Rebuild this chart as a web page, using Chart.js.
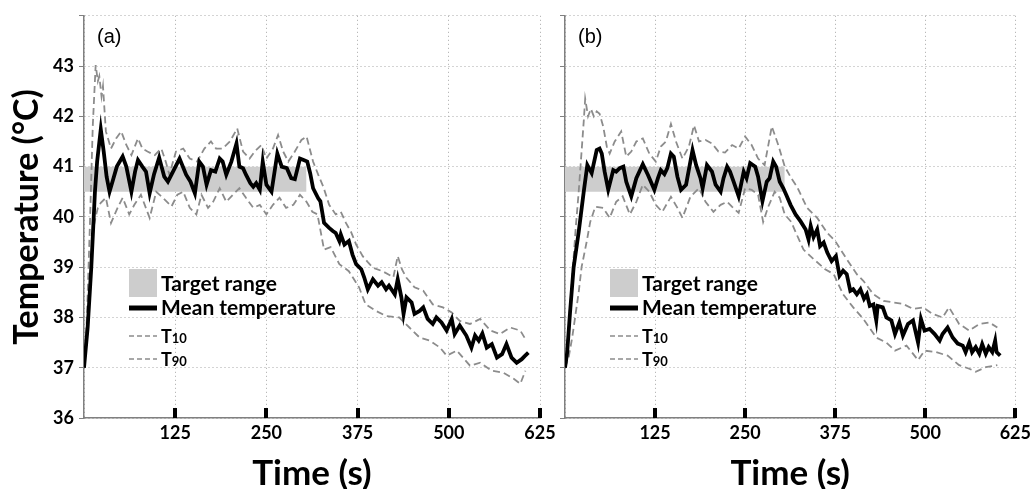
<!DOCTYPE html>
<html><head><meta charset="utf-8">
<script src="https://cdn.jsdelivr.net/npm/chart.js@4.4.1/dist/chart.umd.min.js"></script>
<style>
html,body{margin:0;padding:0;background:#fff;}
#wrap{position:relative;width:1035px;height:489px;overflow:hidden;background:#fff;}
canvas{position:absolute;top:0;}
#ca{left:0;}
#cb{left:545px;}
</style></head><body>
<div id="wrap"><canvas id="ca" width="560" height="489"></canvas><canvas id="cb" width="490" height="489"></canvas></div>
<script>
// ---------- data ----------
const xTicks = [0, 125, 250, 375, 500, 625];
const yTicks = [36, 37, 38, 39, 40, 41, 42, 43, 44];
const targetTimes = [0, 305];
const targetLow = 40.5;
const targetHigh = 41;

// Panel (a)
const aMeanT = [0,5,10,15,18,23,27,31,35,40,45,53,58,65,70,74,80,85,90,96,103,110,115,122,131,140,146,152,158,163,168,174,180,186,190,195,202,209,213,218,222,228,232,236,241,245,250,257,265,271,278,284,289,296,301,306,310,314,321,324,329,336,341,345,350,352,357,363,368,373,380,384,389,396,403,408,414,418,426,430,435,438,442,449,453,460,465,471,478,483,490,497,504,508,515,524,531,536,541,546,552,559,566,573,579,586,593,600,604,609];
const aMeanV = [37.0,37.8,39.0,40.5,41.1,41.74,41.3,40.8,40.5,40.75,41.0,41.2,41.0,40.5,40.9,41.13,41.0,40.9,40.47,40.85,41.18,40.8,40.7,40.9,41.16,40.84,40.7,40.47,41.1,41.0,40.64,40.93,40.9,41.16,41.1,40.84,41.1,41.46,41.0,40.97,40.84,40.67,40.6,40.67,40.54,41.1,40.64,40.5,41.26,41.0,40.97,40.77,40.75,41.16,41.13,41.1,40.87,40.57,40.37,40.31,39.88,39.78,39.72,39.68,39.52,39.65,39.45,39.52,39.25,39.06,38.96,38.8,38.56,38.76,38.63,38.7,38.56,38.63,38.46,38.76,38.4,38.07,38.4,38.3,38.07,38.13,38.2,37.97,37.87,38.0,37.9,37.74,37.97,37.67,37.84,37.64,37.4,37.64,37.54,37.68,37.4,37.47,37.2,37.27,37.47,37.2,37.1,37.17,37.23,37.3];
const aT90T = [0,4,8,12,16,19,21,24,26,30,37,44,51,58,65,74,80,87,97,106,112,117,126,136,145,155,165,174,181,190,200,210,218,227,234,243,250,259,266,273,280,289,298,305,314,321,328,336,345,352,359,366,373,382,389,396,409,418,424,430,436,442,453,465,478,492,504,515,529,543,557,570,584,598,605];
const aT90V = [37.0,38.0,39.8,41.8,43.02,42.7,42.8,42.4,42.6,41.7,41.36,41.56,41.7,41.43,41.23,41.56,41.36,41.3,41.23,41.36,41.1,40.84,41.3,41.36,41.16,41.1,41.36,41.5,41.36,41.36,41.5,41.76,41.3,41.16,41.3,41.43,41.16,41.36,41.63,41.3,41.1,41.3,41.53,41.6,41.1,40.84,40.6,40.24,40.05,40.1,39.88,39.7,39.45,39.22,39.1,38.99,38.92,38.85,38.8,39.22,38.95,38.79,38.6,38.53,38.26,38.2,38.1,37.93,37.87,37.97,37.74,37.67,37.8,37.74,37.57];
const aT10T = [0,4,8,12,16,19,23,30,37,46,53,62,69,78,90,99,108,120,128,136,145,154,161,170,177,186,195,204,213,222,232,241,250,259,268,277,287,296,305,313,320,329,338,350,363,377,386,400,414,432,446,460,474,488,497,511,529,543,559,575,589,598,605];
const aT10V = [37.0,37.5,38.5,39.7,40.0,40.18,40.28,40.38,39.88,40.18,40.38,40.05,40.24,40.44,39.98,40.5,40.38,40.21,40.44,40.5,40.18,40.05,40.44,40.18,40.3,40.57,40.3,40.44,40.57,40.38,40.18,40.24,40.05,40.24,40.38,40.18,40.24,40.44,40.3,40.1,40.05,39.35,39.4,39.06,38.92,38.6,38.26,38.13,38.03,38.0,37.8,37.6,37.54,37.4,37.24,37.34,37.04,37.1,36.94,36.9,36.78,36.68,36.94];

// Panel (b)
const bMeanT = [0,3,7,12,19,26,31,37,44,48,51,55,60,67,71,76,81,85,92,99,108,115,124,129,133,138,142,147,151,156,161,168,177,182,188,191,197,204,209,216,220,225,229,234,241,248,252,257,264,268,274,280,284,289,293,298,303,307,313,320,327,334,338,341,345,350,354,359,364,370,376,381,386,391,396,400,405,410,415,419,423,428,432,434,441,446,453,458,464,469,476,483,490,494,499,506,513,520,524,531,538,545,552,556,561,565,570,575,579,584,588,593,597,599,604];
const bMeanV = [37.0,37.3,38.1,39.0,39.7,40.5,41.03,40.87,41.33,41.36,41.26,40.9,40.54,40.93,40.9,40.97,41.0,40.7,40.41,40.77,41.05,40.84,40.54,40.77,40.93,40.85,40.97,41.26,41.2,40.8,40.54,40.64,41.33,41.03,40.77,40.57,41.03,40.9,40.64,40.5,40.77,41.0,40.9,40.7,40.41,40.9,40.77,41.07,41.0,40.8,40.31,40.7,40.77,41.1,41.0,40.7,40.57,40.44,40.24,40.05,39.91,39.75,39.55,39.82,39.6,39.75,39.42,39.49,39.29,39.12,39.22,38.83,38.93,38.86,38.53,38.56,38.46,38.56,38.37,38.46,38.23,38.26,37.94,38.23,38.2,38.0,37.94,37.67,37.9,37.64,37.87,37.94,37.5,37.97,37.74,37.77,37.67,37.54,37.67,37.8,37.6,37.48,37.44,37.31,37.5,37.31,37.41,37.28,37.47,37.28,37.41,37.31,37.54,37.31,37.24];
const bT90T = [0,5,10,15,19,23,26,28,32,36,40,44,48,53,58,62,69,78,85,92,99,108,117,126,133,140,147,154,163,172,179,186,195,204,213,222,232,241,250,259,268,277,287,296,305,314,322,336,350,364,375,391,405,414,428,442,455,469,483,497,510,524,533,547,561,575,589,600];
const bT90V = [37.0,37.8,38.8,39.8,40.5,41.3,41.9,42.35,42.0,42.15,42.0,42.1,42.05,41.8,41.4,41.26,41.5,41.7,41.2,41.3,41.5,41.56,41.26,41.1,41.4,41.5,41.85,41.5,41.16,41.4,41.82,41.5,41.53,41.46,41.3,41.28,41.43,41.36,41.6,41.43,41.16,41.03,41.8,41.43,41.0,40.77,40.6,40.18,39.98,39.68,39.52,39.16,38.86,38.73,38.46,38.33,38.3,38.27,38.17,38.2,38.07,38.0,38.2,37.87,37.74,37.87,37.9,37.8];
const bT10T = [0,5,10,14,19,23,30,35,42,53,62,71,80,90,99,108,117,126,135,147,156,163,174,186,195,206,216,225,232,241,250,259,268,275,282,291,298,305,314,320,331,345,361,373,386,400,414,432,446,458,474,490,499,515,531,547,561,570,584,600];
const bT10V = [37.0,37.2,37.6,38.0,38.5,39.0,39.5,39.9,40.2,40.18,39.98,40.3,40.41,40.05,40.3,40.64,40.5,40.24,40.1,40.4,40.18,39.98,40.4,40.57,40.3,40.1,40.24,40.3,40.2,40.08,40.57,40.54,40.44,39.9,40.2,40.5,40.38,40.05,39.9,39.7,39.35,39.16,38.96,38.86,38.46,38.2,37.97,37.6,37.5,37.34,37.44,37.15,37.34,37.31,37.24,37.05,36.98,36.92,37.01,37.05];

// ---------- rendering ----------
const FONT = "Lato, 'Open Sans', sans-serif";
const pts = (t, v) => t.map((x, i) => ({x: x, y: v[i]}));

function overlay(label) {
  return {
    id: 'overlay' + label,
    afterDraw(chart) {
      const ctx = chart.ctx, ca = chart.chartArea, xs = chart.scales.x;
      ctx.save();
      // inward thick tick marks on the time axis
      ctx.strokeStyle = '#000'; ctx.lineWidth = 4; ctx.setLineDash([]);
      xTicks.forEach(v => {
        if (v === 0) return;
        const px = Math.round(xs.getPixelForValue(v));
        ctx.beginPath(); ctx.moveTo(px, ca.bottom); ctx.lineTo(px, ca.bottom - 10); ctx.stroke();
      });
      // panel label
      ctx.fillStyle = '#000';
      ctx.font = "20px 'Liberation Sans', Arial, sans-serif";
      ctx.textBaseline = 'middle'; ctx.textAlign = 'left';
      ctx.fillText(label, ca.left + 13, 37);
      // legend
      const lx = ca.left + 45, tx = ca.left + 77;
      ctx.fillStyle = '#cdcdcd'; ctx.fillRect(lx, 269, 28, 28);
      ctx.fillStyle = '#000';
      ctx.font = "bold 21px " + FONT;
      ctx.fillText('Target range', tx, 284);
      ctx.strokeStyle = '#000'; ctx.lineWidth = 5;
      ctx.beginPath(); ctx.moveTo(lx, 308); ctx.lineTo(lx + 28, 308); ctx.stroke();
      ctx.fillText('Mean temperature', tx, 308);
      ctx.strokeStyle = '#8c8c8c'; ctx.lineWidth = 1.6; ctx.setLineDash([5, 3]);
      [[336, '10'], [359, '90']].forEach(([y, sub]) => {
        ctx.beginPath(); ctx.moveTo(lx, y); ctx.lineTo(lx + 28, y); ctx.stroke();
        ctx.textBaseline = 'alphabetic';
        ctx.font = "bold 18px " + FONT;
        ctx.fillText('T', tx, y + 7);
        const w = ctx.measureText('T').width;
        ctx.font = "bold 13px " + FONT;
        ctx.fillText(sub, tx + w, y + 7);
      });
      ctx.restore();
    }
  };
}

function makeConfig(p) {
  return {
    type: 'line',
    data: {datasets: [
      {label: 'Mean temperature', data: pts(p.meanT, p.meanV), borderColor: '#000', borderWidth: 3.8, pointRadius: 0, fill: false, tension: 0},
      {label: 'T10', data: pts(p.t10T, p.t10V), borderColor: '#8c8c8c', borderWidth: 1.8, borderDash: [7, 4], pointRadius: 0, fill: false, tension: 0},
      {label: 'T90', data: pts(p.t90T, p.t90V), borderColor: '#8c8c8c', borderWidth: 1.8, borderDash: [7, 4], pointRadius: 0, fill: false, tension: 0},
      {label: 'Target range', data: pts(targetTimes, [targetHigh, targetHigh]), borderWidth: 0, borderColor: 'rgba(0,0,0,0)', backgroundColor: '#cdcdcd', fill: {value: targetLow}, pointRadius: 0}
    ]},
    options: {
      responsive: false, animation: false, devicePixelRatio: 1,
      layout: {padding: {top: 13, right: p.padRight, bottom: 0, left: 0}},
      plugins: {legend: {display: false}, tooltip: {enabled: false}},
      scales: {
        x: {
          type: 'linear', min: 0, max: 625,
          afterBuildTicks: s => { s.ticks = xTicks.map(v => ({value: v})); },
          afterFit: s => { s.height = 71; },
          ticks: {callback: v => v === 0 ? '' : String(v), font: {family: FONT, size: 18, weight: 'bold'}, color: '#000', padding: 4, maxRotation: 0, autoSkip: false},
          grid: {color: '#a8a8a8', lineWidth: 1, drawTicks: false},
          border: {display: true, color: '#808080', width: 1.5, dash: [1, 3]},
          title: {display: true, text: 'Time (s)', font: {family: FONT, size: 35, weight: 'bold', lineHeight: 1}, color: '#000', padding: {top: 0, bottom: -2}}
        },
        y: {
          type: 'linear', min: 36, max: 44,
          afterBuildTicks: s => { s.ticks = yTicks.map(v => ({value: v})); },
          afterFit: s => { s.width = p.yWidth; },
          ticks: {callback: v => (p.showY && v !== 44) ? String(v) : '', font: {family: FONT, size: 18, weight: 'bold'}, color: '#000', padding: 5},
          grid: {color: '#a8a8a8', lineWidth: 1, drawTicks: true, tickLength: 5, tickColor: '#808080', tickWidth: 1, tickBorderDash: []},
          border: {display: true, color: '#808080', width: 1.5, dash: [1, 3]},
          title: {display: p.showY, text: 'Temperature (°C)', font: {family: FONT, size: 34, weight: 'bold', lineHeight: 1}, color: '#000', padding: {top: 10, bottom: 10}}
        }
      }
    },
    plugins: [overlay(p.label)]
  };
}

new Chart(document.getElementById('ca'), makeConfig({
  label: '(a)', meanT: aMeanT, meanV: aMeanV, t10T: aT10T, t10V: aT10V, t90T: aT90T, t90V: aT90V,
  yWidth: 84, padRight: 20, showY: true
}));
new Chart(document.getElementById('cb'), makeConfig({
  label: '(b)', meanT: bMeanT, meanV: bMeanV, t10T: bT10T, t10V: bT10V, t90T: bT90T, t90V: bT90V,
  yWidth: 20, padRight: 14, showY: false
}));
</script>
</body></html>
